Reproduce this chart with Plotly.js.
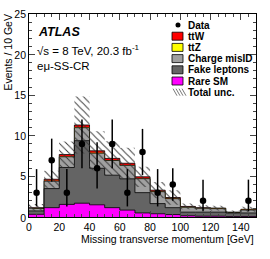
<!DOCTYPE html>
<html>
<head>
<meta charset="utf-8">
<script src="https://cdn.plot.ly/plotly-3.0.1.min.js"></script>
<style>html,body{margin:0;padding:0;background:#fff;}#chart{width:270px;height:259px;}</style>
</head>
<body>
<div id="chart"></div>
<script>
// ---- data ----
const binEdges = [0,10,20,30,40,50,60,70,80,90,100,110,120,130,140,150];
const binCenters = [5,15,25,35,45,55,65,75,85,95,105,115,125,135,145];
const rareSM    = [0.33,1.15,1.55,1.70,1.50,1.15,0.85,0.50,0.40,0.30,0.15,0.10,0.10,0.05,0.05];
const fakeLep   = [0.42,2.35,4.55,7.70,4.50,4.00,3.85,2.50,1.25,0.85,0.45,0.50,0.50,0.45,0.45];
const chargeMis = [0.30,0.92,1.32,1.60,1.86,1.81,1.66,1.72,1.47,1.11,0.60,0.47,0.43,0.06,0.37];
const ttZ       = [0.02,0.03,0.03,0.05,0.04,0.04,0.04,0.03,0.03,0.02,0.02,0.02,0.02,0.01,0.02];
const ttW       = [0.08,0.20,0.25,0.28,0.25,0.22,0.22,0.20,0.15,0.12,0.08,0.06,0.05,0.03,0.06];
const totalUnc  = [0.45,1.05,1.60,3.50,2.40,2.10,1.90,1.25,1.00,0.90,0.35,0.30,0.30,0.20,0.30];
const dataVals  = [3,7,3,9,6,9,3,8,3,4,null,2,null,null,2];
const dataErrUp = [2.9,2.65,2.9,3.0,3.2,3.0,2.9,2.85,2.9,2.0,0,2.6,0,0,2.6];
const dataErrDn = [1.7,2.65,1.7,3.0,2.5,3.0,1.7,2.85,1.7,2.0,0,1.3,0,0,1.3];
const legendLabels = ["Data","ttW","ttZ","Charge misID","Fake leptons","Rare SM","Total unc."];
const xTickVals = [0,20,40,60,80,100,120,140];
const yTickVals = [0,5,10,15,20,25];

// ---- helpers ----
function cum(arrs){ return arrs[0].map((_,i)=>arrs.reduce((s,a)=>s+a[i],0)); }
function stepY(v){ return v.concat([v[v.length-1]]); }

const lvlRare = rareSM.slice();
const lvlFake = cum([rareSM,fakeLep]);
const lvlMis  = cum([rareSM,fakeLep,chargeMis]);
const lvlTtZ  = cum([rareSM,fakeLep,chargeMis,ttZ]);
const lvlTot  = cum([rareSM,fakeLep,chargeMis,ttZ,ttW]);
const uncLo = lvlTot.map((t,i)=>t-totalUnc[i]);
const uncHi = lvlTot.map((t,i)=>t+totalUnc[i]);

const C = {red:'#ff0000', yellow:'#ffff00', light:'#a0a0a0', dark:'#646464', mag:'#ff00ff'};
const LW = 0.8;
function stepTrace(vals,fill,lw){
  return {type:'scatter',mode:'lines',x:binEdges,y:stepY(vals),
    line:{shape:'hv',color:'#000',width:lw},fill:'tozeroy',fillcolor:fill,
    hoverinfo:'skip',showlegend:false};
}
const traces = [
  stepTrace(lvlTot,C.red,LW),
  stepTrace(lvlTtZ,C.yellow,0),
  stepTrace(lvlMis,C.light,LW),
  stepTrace(lvlFake,C.dark,LW),
  stepTrace(lvlRare,C.mag,LW),
  {type:'scatter',mode:'lines',x:binEdges,y:stepY(uncLo),line:{shape:'hv',width:0,color:'rgba(0,0,0,0)'},
   hoverinfo:'skip',showlegend:false},
  {type:'scatter',mode:'lines',x:binEdges,y:stepY(uncHi),line:{shape:'hv',width:0,color:'rgba(0,0,0,0)'},
   fill:'tonexty',fillcolor:'rgba(0,0,0,0)',
   fillpattern:{shape:'\\',fgcolor:'#333333',bgcolor:'rgba(0,0,0,0)',size:5,solidity:0.18},
   hoverinfo:'skip',showlegend:false},
  {type:'scatter',mode:'markers',x:binCenters,y:dataVals,
   marker:{color:'#000',size:6.5},
   error_y:{type:'data',symmetric:false,array:dataErrUp,arrayminus:dataErrDn,color:'#000',thickness:1.5,width:0},
   hoverinfo:'skip',showlegend:false}
];

// ---- layout helpers (pixel -> paper) ----
const L=29,T=14,W=227,H=203;
function px(x){return (x-L)/W;}
function py(y){return (T+H-y)/H;}
const font = 'Liberation Sans, Arial, Helvetica, sans-serif';

const shapes = [];
const annotations = [];
// legend
const rowY0 = 25, rowDy = 11.2;
const boxL = 172, boxR = 183, boxH = 8;
const swatch = [null,C.red,C.yellow,C.light,C.dark,C.mag,'hatch'];
legendLabels.forEach((lab,i)=>{
  const yc = rowY0 + rowDy*i;
  if(i===0){
    shapes.push({type:'circle',xref:'paper',yref:'paper',x0:px(175.5),x1:px(180.5),y0:py(yc+2.5),y1:py(yc-2.5),
      fillcolor:'#000',line:{width:0}});
  } else if(swatch[i]==='hatch'){
    for(let k=0;k<4;k++){
      const xs = boxL+1+k*3;
      shapes.push({type:'line',xref:'paper',yref:'paper',x0:px(xs),y0:py(yc-3.5),x1:px(xs+4),y1:py(yc+3.5),
        line:{color:'#555',width:0.8}});
    }
  } else {
    shapes.push({type:'rect',xref:'paper',yref:'paper',x0:px(boxL),x1:px(boxR),y0:py(yc+boxH/2),y1:py(yc-boxH/2),
      fillcolor:swatch[i],line:{color:'#000',width:0.8}});
  }
  annotations.push({xref:'paper',yref:'paper',x:px(185.5),y:py(yc),xanchor:'left',yanchor:'middle',
    text:'<b>'+lab+'</b>',showarrow:false,font:{family:font,size:10,color:'#000'}});
});
// ATLAS labels
annotations.push({xref:'paper',yref:'paper',x:px(36),y:py(32),xanchor:'left',yanchor:'middle',
  text:'<b><i>ATLAS</i></b>',showarrow:false,font:{family:font,size:12.5,color:'#000'}});
annotations.push({xref:'paper',yref:'paper',x:px(35),y:py(50),xanchor:'left',yanchor:'middle',
  text:'√s = 8 TeV, 20.3 fb<sup>-1</sup>',showarrow:false,font:{family:font,size:11.5,color:'#000'}});
annotations.push({xref:'paper',yref:'paper',x:px(35),y:py(66),xanchor:'left',yanchor:'middle',
  text:'eμ-SS-CR',showarrow:false,font:{family:font,size:11.5,color:'#000'}});
// axis titles
annotations.push({xref:'paper',yref:'paper',x:1,y:py(239.5),xanchor:'right',yanchor:'middle',
  text:'Missing transverse momentum [GeV]',showarrow:false,font:{family:font,size:10.5,color:'#000'}});
annotations.push({xref:'paper',yref:'paper',x:px(7.5),y:py(13),xanchor:'center',yanchor:'top',textangle:-90,
  text:'Events / 10 GeV',showarrow:false,font:{family:font,size:10.5,color:'#000'}});

const layout = {
  width:270,height:259,
  margin:{l:L,r:270-L-W,t:T,b:259-T-H,pad:0},
  showlegend:false,
  xaxis:{range:[0,150],tickvals:xTickVals,ticks:'inside',ticklen:6,
    minor:{dtick:5,ticks:'inside',ticklen:3},
    showline:true,linecolor:'#000',mirror:'allticks',showgrid:false,zeroline:false,
    tickfont:{family:font,size:10.5,color:'#000'}},
  yaxis:{range:[0,25],tickvals:yTickVals,ticks:'inside',ticklen:6,showticklabels:false,
    minor:{dtick:1,ticks:'inside',ticklen:3},
    showline:true,linecolor:'#000',mirror:'allticks',showgrid:false,zeroline:false},
  shapes:shapes,
  annotations:annotations
};
Plotly.newPlot('chart',traces,layout,{staticPlot:true,displayModeBar:false}).then(gd=>{
  // y tick labels placed with Plotly's own y scale, in the topmost svg layer
  const ya = gd._fullLayout.yaxis;
  const svgs = gd.querySelectorAll('svg.main-svg');
  const top = svgs[svgs.length-1];
  const NS = 'http://www.w3.org/2000/svg';
  const g = document.createElementNS(NS,'g');
  g.setAttribute('class','ytick-labels-custom');
  yTickVals.forEach(v=>{
    const t = document.createElementNS(NS,'text');
    t.setAttribute('x', String(L-3));
    t.setAttribute('y', String(ya._offset + ya.l2p(v) + (v===0?1:0)));
    t.setAttribute('text-anchor','end');
    t.setAttribute('dominant-baseline','central');
    t.setAttribute('style','font-family:'+font+';font-size:10.5px;fill:#000;');
    t.textContent = String(v);
    g.appendChild(t);
  });
  top.appendChild(g);
});
</script>
</body>
</html>
